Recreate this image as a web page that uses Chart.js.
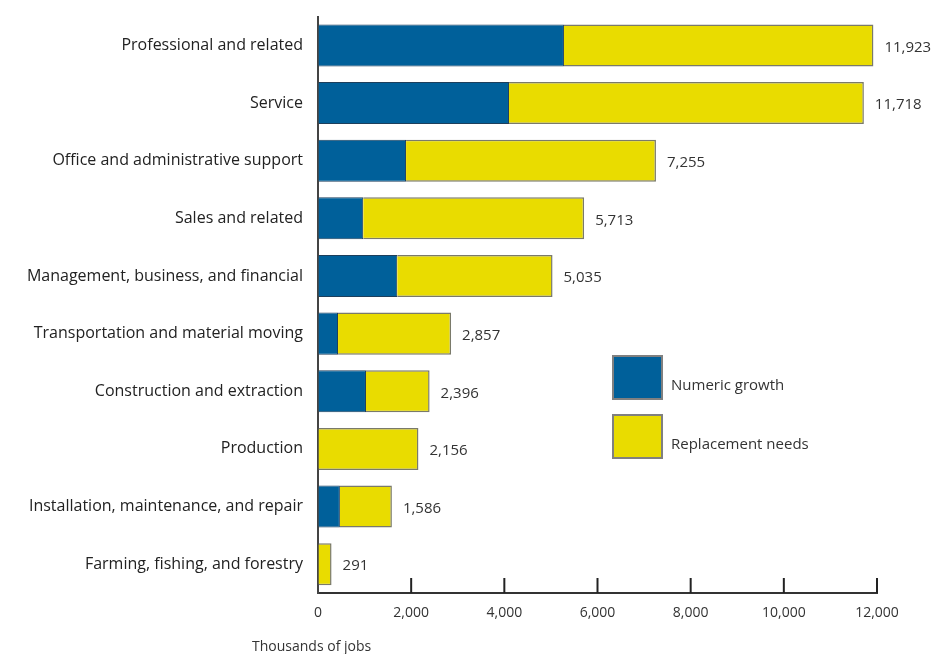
<!DOCTYPE html>
<html>
<head>
<meta charset="utf-8">
<script src="https://cdn.jsdelivr.net/npm/chart.js@4"></script>
<style>
  html, body { margin: 0; padding: 0; background: #fff; }
  #wrap { width: 936px; height: 654px; }
</style>
</head>
<body>
<div id="wrap"><canvas id="myChart"></canvas></div>
<script>
const categories = [
  'Professional and related',
  'Service',
  'Office and administrative support',
  'Sales and related',
  'Management, business, and financial',
  'Transportation and material moving',
  'Construction and extraction',
  'Production',
  'Installation, maintenance, and repair',
  'Farming, fishing, and forestry'
];
const numericGrowth    = [5280, 4100, 1890,  970, 1700,  430, 1030,    0,  470,   0];
const replacementNeeds = [6643, 7618, 5365, 4743, 3335, 2427, 1366, 2156, 1116, 291];
const totalLabels = ['11,923', '11,718', '7,255', '5,713', '5,035', '2,857', '2,396', '2,156', '1,586', '291'];
const xTicks = [0, 2000, 4000, 6000, 8000, 10000, 12000];
const axisTitle = 'Thousands of jobs';

const FONT = "'Open Sans', 'DejaVu Sans', sans-serif";

// ticks drawn upward from the x axis, totals after each bar, legend on the right
const extras = {
  id: 'extras',
  afterDraw(chart) {
    const ctx = chart.ctx;
    const x = chart.scales.x;
    const y = chart.scales.y;
    const bottom = chart.chartArea.bottom;
    ctx.save();

    ctx.strokeStyle = '#222';
    ctx.lineWidth = 2;
    xTicks.forEach(v => {
      if (v === 0) return;
      const px = x.getPixelForValue(v);
      ctx.beginPath();
      ctx.moveTo(px, bottom);
      ctx.lineTo(px, bottom - 15);
      ctx.stroke();
    });

    ctx.font = '15px ' + FONT;
    ctx.fillStyle = '#333';
    ctx.textAlign = 'left';
    ctx.textBaseline = 'middle';
    categories.forEach((c, i) => {
      const total = numericGrowth[i] + replacementNeeds[i];
      ctx.fillText(totalLabels[i], x.getPixelForValue(total) + 11, y.getPixelForValue(i) + 2);
    });

    const ds = chart.data.datasets;
    const boxes = [{ y: 356 }, { y: 415 }];
    ds.forEach((d, i) => {
      const by = boxes[i].y;
      ctx.fillStyle = d.backgroundColor;
      ctx.fillRect(613, by, 49, 43);
      ctx.strokeStyle = '#808080';
      ctx.lineWidth = 2;
      ctx.strokeRect(613, by, 49, 43);
      ctx.fillStyle = '#333';
      ctx.font = '15px ' + FONT;
      ctx.fillText(d.label, 671, by + 30);
    });

    ctx.font = '14px ' + FONT;
    ctx.fillStyle = '#333';
    ctx.textBaseline = 'alphabetic';
    ctx.fillText(axisTitle, 252, 651);
    ctx.restore();
  }
};

const ctx = document.getElementById('myChart').getContext('2d');
new Chart(ctx, {
  type: 'bar',
  data: {
    labels: categories,
    datasets: [
      {
        label: 'Numeric growth',
        data: numericGrowth,
        backgroundColor: '#00609a',
        borderColor: '#1d3f5c',
        borderWidth: 1,
        barPercentage: 0.9,
        categoryPercentage: 0.81
      },
      {
        label: 'Replacement needs',
        data: replacementNeeds,
        backgroundColor: '#e9dc00',
        borderColor: '#7a7a6a',
        borderWidth: 1.5,
        barPercentage: 0.9,
        categoryPercentage: 0.81
      }
    ]
  },
  options: {
    indexAxis: 'y',
    responsive: true,
    maintainAspectRatio: false,
    animation: false,
    layout: { padding: { top: 16, right: 59, left: 0, bottom: 0 } },
    plugins: {
      legend: { display: false },
      tooltip: { enabled: false }
    },
    scales: {
      x: {
        stacked: true,
        min: 0,
        max: 12000,
        afterBuildTicks(scale) {
          scale.ticks = xTicks.map(v => ({ value: v }));
        },
        afterFit(scale) { scale.height = 61; },
        grid: { display: true, drawOnChartArea: false, drawTicks: false },
        border: { display: true, color: '#333', width: 2 },
        ticks: {
          padding: 12,
          color: '#333',
          font: { family: FONT, size: 14 },
          callback: v => v.toLocaleString('en-US')
        }
      },
      y: {
        stacked: true,
        afterFit(scale) { scale.width = 318; },
        grid: { display: false },
        border: { display: true, color: '#444', width: 2 },
        ticks: {
          padding: 7,
          color: '#222',
          font: { family: FONT, size: 16 }
        }
      }
    }
  },
  plugins: [extras]
});
</script>
</body>
</html>
